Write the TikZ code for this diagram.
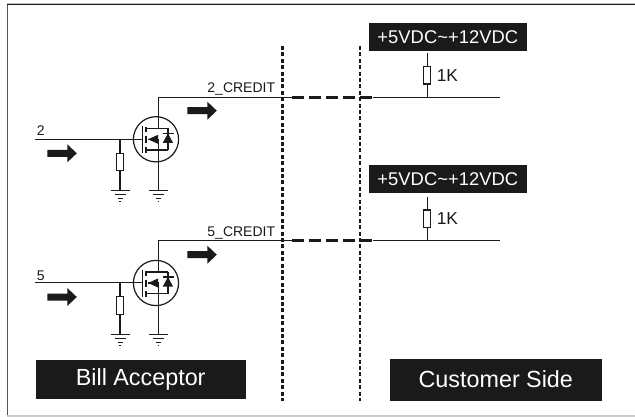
\documentclass[tikz,border=0pt]{standalone}
\usepackage{fontspec}
\setmainfont{Liberation Sans}
\definecolor{ink}{HTML}{1A1A1A}
\definecolor{frame}{HTML}{555555}
\tikzset{
  x=0.75pt,y=-0.75pt,
  wire/.style={draw=ink,line width=0.9pt},
  fine/.style={draw=ink,line width=0.7pt},
  fence/.style={draw=ink,line width=2.15pt,dash pattern=on 3pt off 1.8pt},
  link/.style={draw=ink,line width=2pt,dash pattern=on 9pt off 3.75pt},
  bar/.style={fill=ink,draw=ink,text=white,inner sep=0pt,anchor=center},
  res/.style={draw=ink,fill=white,line width=0.9pt,minimum width=5.2pt,minimum height=13pt,inner sep=0pt},
  lab/.style={inner sep=0pt,text=ink,font=\fontsize{10.5}{12}\selectfont},
  flow/.style={fill=ink,draw=none}
}
\newcommand{\gnd}[1]{%
  \draw[fine] (#1) ++(-9.5,0) -- ++(19,0);
  \draw[fine] (#1) ++(-5.5,4) -- ++(11,0);
  \draw[fine] (#1) ++(-2.5,8) -- ++(5,0);
  \draw[fine] (#1) ++(-0.7,11) -- ++(1.4,0);
}
\newcommand{\flowarrow}[1]{%
  \fill[flow] (#1) ++(0,-3.5) -- ++(20,0) -- ++(0,-5.5) -- ++(9.5,9) -- ++(-9.5,9) -- ++(0,-5.5) -- ++(-20,0) -- cycle;
}
\newcommand{\mosfet}[1]{%
  \draw[wire] (#1) circle[radius=22.6];
  \begin{scope}[shift={(#1)}]
    \draw[wire] (-13.7,-13.5) -- (-13.7,14);
    \draw[wire,line width=1.2pt] (-10,-12.5) -- (-10,-7);
    \draw[wire,line width=1.2pt] (-10,-3.5) -- (-10,4);
    \draw[wire,line width=1.2pt] (-10,8) -- (-10,14);
    \draw[wire] (-10,-11) -- (12,-11);
    \draw[wire] (-10,10.7) -- (12,10.7);
    \draw[wire] (-8,0) -- (2.7,0);
    \draw[wire] (2.7,0) -- (2.7,10.7);
    \draw[wire] (12,-11) -- (12,10.7);
    \fill[ink] (-8,0) -- (2,-4.5) -- (2,4.5) -- cycle;
    \fill[ink] (12,-6) -- (6.7,3.6) -- (17,3.6) -- cycle;
    \draw[wire] (6.5,-6) -- (17.5,-6);
  \end{scope}
}
\begin{document}
\begin{tikzpicture}
\useasboundingbox (0,0) rectangle (635,417);
\fill[white] (0,0) rectangle (635,417);
\draw[frame,line width=1.3pt] (7.5,4.2) -- (7.5,416);
\draw[ink,line width=1pt] (7,4.5) -- (635,4.5);
\draw[black!25,line width=0.9pt] (7,3.2) -- (635,3.2);
\draw[black!20,line width=0.9pt] (7,416) -- (635,416);

% first channel
\coordinate (g1) at (156,139.3);
\coordinate (gs1) at (35,139.3);
\coordinate (gg1) at (142.3,139.3);
\coordinate (j1) at (120,139.3);
\coordinate (d1) at (158.7,97.3);
\coordinate (dt1) at (158.7,128.3);
\coordinate (db1) at (158.7,150);
\coordinate (e1) at (292.3,97.3);
\coordinate (f1) at (372.7,97.3);
\coordinate (t1) at (427.3,97.3);
\coordinate (u1) at (427.3,52.7);
\coordinate (o1) at (500,97.3);
\coordinate (gr1) at (120,190);
\coordinate (gd1) at (158.7,190);
\draw[wire] (gs1) -- (gg1);
\node[res] (r1) at (120,162) {};
\draw[wire] (j1) -- (r1) -- (gr1);
\draw[wire] (gd1) -- (db1);
\draw[wire] (dt1) -- (d1) -- (e1);
\draw[link] (e1) -- (f1);
\draw[wire] (f1) -- (o1);
\mosfet{g1}
\gnd{gr1}
\gnd{gd1}
\flowarrow{47.3,153.3}
\flowarrow{187.3,110.7}
\node[lab,anchor=base west] (l2) at (36.5,135.7) {2};
\node[lab,anchor=base] (n2) at (241.3,92.3) {2\_CREDIT};
\node[bar,minimum width=118pt,minimum height=20.5pt,font=\fontsize{13.8}{16}\selectfont] (v1) at (447.8,37) {+5VDC\textasciitilde +12VDC};
\node[res] (k1) at (427.3,75.3) {};
\draw[wire] (u1) -- (k1) -- (t1);
\node[inner sep=0pt,anchor=west,text=ink,font=\fontsize{13}{15}\selectfont] (kl1) at (436.5,76) {1K};

% second channel
\coordinate (g2) at (156,283);
\coordinate (gs2) at (35,282.3);
\coordinate (gg2) at (142.3,282.3);
\coordinate (j2) at (120,282.3);
\coordinate (d2) at (158.7,240.6);
\coordinate (dt2) at (158.7,272);
\coordinate (db2) at (158.7,293.7);
\coordinate (e2) at (292.3,240.6);
\coordinate (f2) at (372.7,240.6);
\coordinate (t2) at (427.3,240.6);
\coordinate (u2) at (427.3,196.7);
\coordinate (o2) at (500,240.6);
\coordinate (gr2) at (120,334);
\coordinate (gd2) at (158.7,334);
\draw[wire] (gs2) -- (gg2);
\node[res] (r2) at (120,305.5) {};
\draw[wire] (j2) -- (r2) -- (gr2);
\draw[wire] (gd2) -- (db2);
\draw[wire] (dt2) -- (d2) -- (e2);
\draw[link] (e2) -- (f2);
\draw[wire] (f2) -- (o2);
\mosfet{g2}
\gnd{gr2}
\gnd{gd2}
\flowarrow{47.3,297}
\flowarrow{187.3,254.7}
\node[lab,anchor=base west] (l5) at (36.5,280) {5};
\node[lab,anchor=base] (n5) at (241.3,236) {5\_CREDIT};
\node[bar,minimum width=118pt,minimum height=20.5pt,font=\fontsize{13.8}{16}\selectfont] (v2) at (447.8,179) {+5VDC\textasciitilde +12VDC};
\node[res] (k2) at (427.3,218.7) {};
\draw[wire] (u2) -- (k2) -- (t2);
\node[inner sep=0pt,anchor=west,text=ink,font=\fontsize{13}{15}\selectfont] (kl2) at (436.5,219) {1K};

% fences
\coordinate (a1) at (282.3,46);
\coordinate (a2) at (282.3,401);
\coordinate (b1) at (360,46);
\coordinate (b2) at (360,401);
\draw[fence] (a1) -- (a2);
\draw[fence] (b1) -- (b2);

% bottom labels
\node[bar,minimum width=156.5pt,minimum height=28.5pt,font=\fontsize{17.5}{20}\selectfont] (ba) at (140.7,379.7) {Bill Acceptor};
\node[bar,minimum width=158.5pt,minimum height=30.5pt,font=\fontsize{17.5}{20}\selectfont] (cs) at (495.8,379.5) {Customer Side};
\end{tikzpicture}
\end{document}
